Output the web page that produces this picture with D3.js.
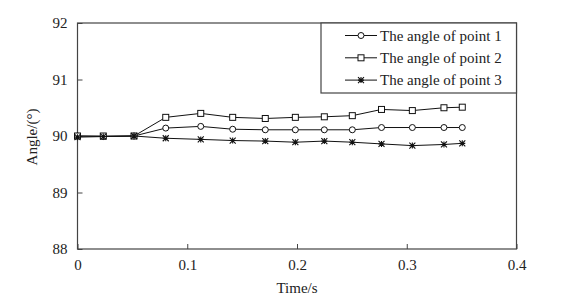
<!DOCTYPE html>
<html><head><meta charset="utf-8">
<script src="https://cdn.jsdelivr.net/npm/d3@7"></script>
<style>body{margin:0;background:#fff}svg{display:block}text{font-family:"Liberation Serif","Times New Roman",Times,serif;fill:#222}</style>
</head><body><svg id="c" width="587" height="303"></svg>
<script>
const times = [0, 0.0235, 0.0515, 0.0804, 0.1123, 0.1414, 0.1711, 0.1985, 0.2249, 0.2504, 0.2770, 0.3051, 0.3339, 0.3506];
const point1 = [90.0, 89.99, 90.0, 90.14, 90.17, 90.12, 90.11, 90.11, 90.11, 90.11, 90.15, 90.15, 90.15, 90.15];
const point2 = [90.0, 90.0, 90.0, 90.33, 90.40, 90.33, 90.31, 90.33, 90.34, 90.36, 90.47, 90.45, 90.50, 90.51];
const point3 = [89.98, 89.99, 90.0, 89.96, 89.94, 89.92, 89.91, 89.89, 89.91, 89.89, 89.86, 89.83, 89.85, 89.87];
const seriesNames = ["The angle of point 1", "The angle of point 2", "The angle of point 3"];
const xTicks = [0, 0.1, 0.2, 0.3, 0.4];
const yTicks = [88, 89, 90, 91, 92];

const svg = d3.select("#c");
const L = 77.5, R = 516.5, T = 23, B = 249;
const x = d3.scaleLinear().domain([0, 0.4]).range([L, R]);
const y = d3.scaleLinear().domain([88, 92]).range([B, T]);

const frame = "#444";
const xa = svg.append("g").attr("transform", `translate(0,${B})`)
  .call(d3.axisBottom(x).tickValues(xTicks).tickSize(-5).tickPadding(10).tickFormat(d => d === 0 ? "0" : d3.format(".1f")(d)));
const ya = svg.append("g").attr("transform", `translate(${L},0)`)
  .call(d3.axisLeft(y).tickValues(yTicks).tickSize(-5).tickPadding(10).tickFormat(d3.format("d")));
[xa, ya].forEach(g => {
  g.attr("font-family", null).attr("font-size", null);
  g.select(".domain").remove();
  g.selectAll("line").attr("stroke", frame);
  g.selectAll("text").style("font-size", "15px").attr("fill", "#222");
});
xa.selectAll("text").attr("dy", "0.71em");

svg.append("rect").attr("x", L).attr("y", T).attr("width", R - L).attr("height", B - T)
  .attr("fill", "none").attr("stroke", frame).attr("stroke-width", 1.2);

svg.append("text").attr("x", 297).attr("y", 293).attr("text-anchor", "middle").style("font-size", "15px").text("Time/s");
svg.append("text").attr("transform", "translate(37,137) rotate(-90)").attr("text-anchor", "middle").style("font-size", "15px")
  .text("Angle/(°)");

const data = [point1, point2, point3];
const line = d3.line().x((d, i) => x(times[i])).y(d => y(d));

function marker(g, type, cx, cy) {
  if (type === 0) g.append("circle").attr("cx", cx).attr("cy", cy).attr("r", 3).attr("fill", "#fff").attr("stroke", "#111").attr("stroke-width", 1);
  else if (type === 1) g.append("rect").attr("x", cx - 3).attr("y", cy - 3).attr("width", 6).attr("height", 6).attr("fill", "#fff").attr("stroke", "#111").attr("stroke-width", 1);
  else {
    const s = 3;
    g.append("path").attr("d", `M${cx - s},${cy}H${cx + s}M${cx},${cy - s}V${cy + s}M${cx - s},${cy - s}L${cx + s},${cy + s}M${cx - s},${cy + s}L${cx + s},${cy - s}`)
      .attr("stroke", "#111").attr("stroke-width", 1.1).attr("fill", "none");
  }
}

data.forEach((vals, k) => {
  const g = svg.append("g");
  g.append("path").datum(vals).attr("d", line).attr("fill", "none").attr("stroke", "#111").attr("stroke-width", 1);
  vals.forEach((v, i) => marker(g, k, x(times[i]), y(v)));
});

const lg = svg.append("g");
lg.append("rect").attr("x", 321).attr("y", T).attr("width", R - 321).attr("height", 70).attr("fill", "#fff").attr("stroke", frame).attr("stroke-width", 1.2);
seriesNames.forEach((n, k) => {
  const yy = 35.5 + k * 22.3;
  lg.append("line").attr("x1", 345).attr("x2", 377).attr("y1", yy).attr("y2", yy).attr("stroke", "#111").attr("stroke-width", 1);
  marker(lg, k, 361, yy);
  lg.append("text").attr("x", 380).attr("y", yy).attr("dy", "0.35em").style("font-size", "15px").text(n);
});
</script></body></html>
